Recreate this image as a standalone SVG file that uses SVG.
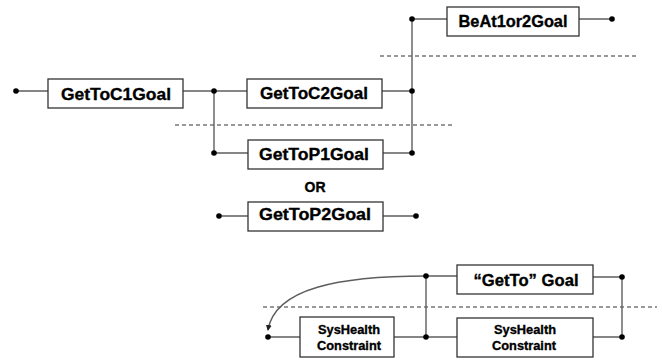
<svg xmlns="http://www.w3.org/2000/svg" width="662" height="360" viewBox="0 0 662 360">
<style>
.box{fill:#fff;stroke:#333;stroke-width:1.3}
.ln{fill:none;stroke:#5e5e5e;stroke-width:1.4}
.dash{fill:none;stroke:#333;stroke-width:1;stroke-dasharray:4 3}
.dot{fill:#000}
.t{font-family:"Liberation Sans",Arial,sans-serif;font-weight:bold;fill:#000;stroke:#000;stroke-width:0.35;text-anchor:middle}
.big{font-size:17px}
.small{font-size:13px}
</style>
<defs>
<marker id="arr" markerWidth="6" markerHeight="6" refX="5" refY="3" orient="auto" markerUnits="userSpaceOnUse">
<path d="M0,0 L6,3 L0,6 z" fill="#222"/>
</marker>
</defs>
<rect width="662" height="360" fill="#fff"/>
<g id="dashes">
<line class="dash" x1="380" y1="56" x2="638" y2="56"/>
<line class="dash" x1="175" y1="125" x2="455" y2="125"/>
<line class="dash" x1="263" y1="307" x2="657" y2="307"/>
</g>
<g id="connectors">
<path class="ln" d="M16,91 H48 M183,91 H247 M214,91 V153 H248 M382,91 H412 M383,153 H412 M412,19 V153 M412,19 H447 M579,19 H612"/>
<path class="ln" d="M219,216 H248 M383,216 H416"/>
<path class="ln" d="M268,337 H300 M394,337 H457 M426,276 V337 M426,276 H457 M593,277 H622 M593,337 H622 M622,277 V337"/>
<path class="ln" d="M426,276 C340,276 275,288 268,330" stroke="#555" stroke-width="1.1" marker-end="url(#arr)"/>
<circle class="dot" cx="16" cy="91" r="2.8"/>
<circle class="dot" cx="214" cy="91" r="2.8"/>
<circle class="dot" cx="214" cy="153" r="2.8"/>
<circle class="dot" cx="412" cy="91" r="2.8"/>
<circle class="dot" cx="412" cy="153" r="2.8"/>
<circle class="dot" cx="412" cy="19" r="2.8"/>
<circle class="dot" cx="612" cy="19" r="2.8"/>
<circle class="dot" cx="219" cy="216" r="2.8"/>
<circle class="dot" cx="416" cy="216" r="2.8"/>
<circle class="dot" cx="268" cy="337" r="2.8"/>
<circle class="dot" cx="426" cy="276" r="2.8"/>
<circle class="dot" cx="426" cy="337" r="2.8"/>
<circle class="dot" cx="622" cy="277" r="2.8"/>
<circle class="dot" cx="622" cy="337" r="2.8"/>
</g>
<g id="GetToC1Goal">
<rect class="box" x="48" y="79" width="135" height="29"/>
<text class="t big" x="116" y="100" textLength="110" lengthAdjust="spacingAndGlyphs">GetToC1Goal</text>
</g>
<g id="GetToC2Goal">
<rect class="box" x="247" y="79" width="135" height="29"/>
<text class="t big" x="314" y="99" textLength="108" lengthAdjust="spacingAndGlyphs">GetToC2Goal</text>
</g>
<g id="GetToP1Goal">
<rect class="box" x="248" y="140" width="135" height="29"/>
<text class="t big" x="314" y="160" textLength="110" lengthAdjust="spacingAndGlyphs">GetToP1Goal</text>
</g>
<g id="OR">
<text class="t" x="315" y="192" font-size="14">OR</text>
</g>
<g id="GetToP2Goal">
<rect class="box" x="248" y="202" width="135" height="29"/>
<text class="t big" x="315" y="220" textLength="112" lengthAdjust="spacingAndGlyphs">GetToP2Goal</text>
</g>
<g id="BeAt1or2Goal">
<rect class="box" x="447" y="7" width="132" height="29"/>
<text class="t big" x="513" y="27" textLength="109" lengthAdjust="spacingAndGlyphs">BeAt1or2Goal</text>
</g>
<g id="GetToGoal">
<rect class="box" x="457" y="265" width="136" height="29"/>
<text class="t big" x="526" y="286" textLength="105" lengthAdjust="spacingAndGlyphs">“GetTo” Goal</text>
</g>
<g id="SysHealth1">
<rect class="box" x="300" y="317" width="94" height="40"/>
<text class="t small" x="349" y="334" textLength="62" lengthAdjust="spacingAndGlyphs">SysHealth</text>
<text class="t small" x="349" y="350" textLength="64" lengthAdjust="spacingAndGlyphs">Constraint</text>
</g>
<g id="SysHealth2">
<rect class="box" x="457" y="318" width="136" height="39"/>
<text class="t small" x="525" y="334" textLength="62" lengthAdjust="spacingAndGlyphs">SysHealth</text>
<text class="t small" x="524" y="350" textLength="64" lengthAdjust="spacingAndGlyphs">Constraint</text>
</g>
</svg>
